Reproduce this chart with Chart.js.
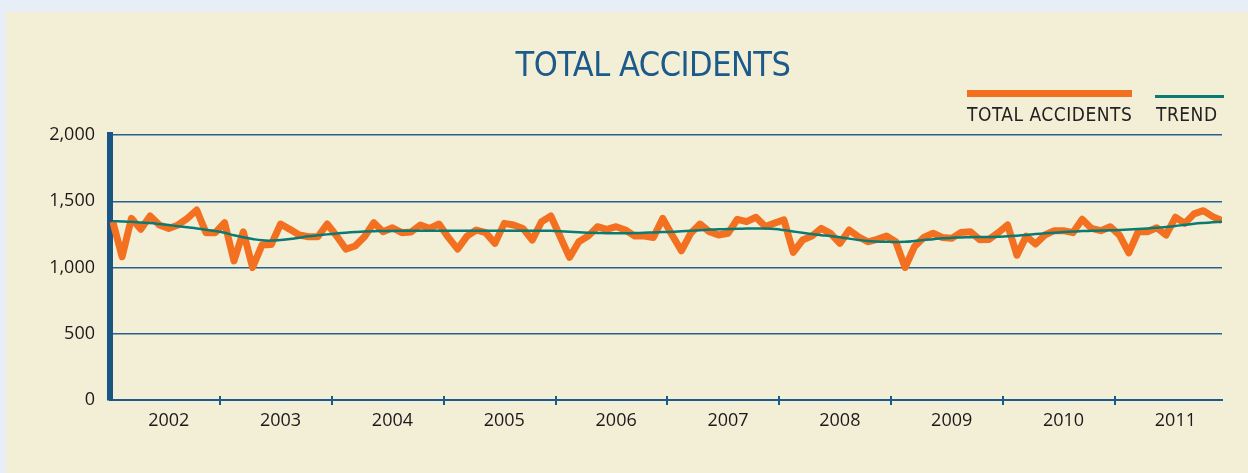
<!DOCTYPE html>
<html>
<head>
<meta charset="utf-8">
<script src="https://cdn.jsdelivr.net/npm/chart.js@4"></script>
<style>
  html, body { margin: 0; padding: 0; background: #e7eef5; overflow: hidden; }
  #panel { position: absolute; left: 6px; top: 12px; width: 1242px; height: 461px; background: #f3efd7; }
</style>
</head>
<body>
<div id="panel"><canvas id="accidents" width="1242" height="461"></canvas></div>
<script>
var chartTitle = "TOTAL ACCIDENTS";
var years = ["2002","2003","2004","2005","2006","2007","2008","2009","2010","2011"];
var yTicks = [0, 500, 1000, 1500, 2000];

// monthly totals, Jan 2002 .. Dec 2011
var totalAccidents = [
  1346,1081,1371,1288,1389,1321,1295,1321,1371,1434,1263,1263,
  1338,1050,1270,1000,1169,1174,1328,1288,1245,1232,1232,1328,
  1240,1139,1162,1232,1338,1270,1300,1263,1268,1321,1295,1328,
  1227,1139,1237,1283,1263,1182,1333,1321,1295,1207,1346,1389,
  1232,1076,1194,1237,1308,1288,1308,1283,1237,1237,1227,1371,
  1245,1126,1258,1328,1270,1245,1258,1364,1346,1379,1310,1335,
  1360,1114,1207,1237,1295,1258,1182,1283,1232,1194,1212,1237,
  1194,1000,1157,1227,1258,1227,1220,1265,1270,1210,1212,1263,
  1321,1093,1237,1177,1245,1278,1278,1263,1364,1295,1278,1308,
  1245,1111,1270,1270,1300,1245,1379,1333,1405,1429,1384,1354
];

var trend = [
  1350,1348,1345,1340,1335,1328,1320,1312,1303,1295,1285,1275,
  1262,1243,1228,1215,1205,1203,1208,1215,1225,1235,1243,1250,
  1257,1263,1268,1272,1274,1275,1276,1277,1277,1278,1278,1278,
  1278,1278,1278,1278,1278,1278,1278,1278,1278,1278,1278,1277,
  1274,1270,1266,1263,1261,1259,1258,1258,1260,1262,1265,1268,
  1270,1274,1278,1282,1286,1288,1290,1292,1294,1295,1294,1290,
  1282,1272,1262,1252,1244,1237,1228,1218,1208,1200,1196,1194,
  1193,1194,1200,1208,1214,1220,1224,1227,1229,1230,1230,1232,
  1235,1240,1246,1252,1258,1263,1267,1271,1275,1277,1279,1281,
  1283,1286,1290,1295,1300,1306,1313,1322,1330,1336,1341,1346
];

var orange = "#f37021";
var teal = "#0b7a72";
var navy = "#1b5a8a";
var narrow = "'Liberation Sans Narrow', 'DejaVu Sans Condensed', sans-serif";

function toPoints(arr) {
  return arr.map(function (v, i) { return { x: i, y: v }; });
}

// title, year boundary marks, and legend with the swatch above the text
var extras = {
  id: "extras",
  afterDraw: function (chart) {
    var ctx = chart.ctx;
    var xs = chart.scales.x;
    var bottom = chart.chartArea.bottom;
    ctx.save();
    ctx.strokeStyle = navy;
    ctx.lineWidth = 2;
    for (var k = 1; k < years.length; k++) {
      var px = Math.round(xs.getPixelForValue(k * 12 - 0.5));
      ctx.beginPath();
      ctx.moveTo(px, bottom - 4);
      ctx.lineTo(px, bottom + 5);
      ctx.stroke();
    }

    ctx.fillStyle = navy;
    ctx.font = "34px " + narrow;
    ctx.letterSpacing = "-0.5px";
    ctx.textAlign = "center";
    ctx.textBaseline = "alphabetic";
    ctx.fillText(chartTitle, 647, 64);

    ctx.fillStyle = orange;
    ctx.fillRect(961, 78, 165, 7);
    ctx.fillStyle = teal;
    ctx.fillRect(1149, 83, 69, 3);

    ctx.fillStyle = "#222";
    ctx.font = "19px " + narrow;
    ctx.letterSpacing = "0.5px";
    ctx.textAlign = "left";
    ctx.fillText("TOTAL ACCIDENTS", 961, 109);
    ctx.fillText("TREND", 1150, 109);
    ctx.restore();
  }
};

var ctx = document.getElementById("accidents");

var chart = new Chart(ctx, {
  type: "line",
  data: {
    datasets: [
      {
        label: "TREND",
        data: toPoints(trend),
        borderColor: teal,
        borderWidth: 2.5,
        tension: 0.4,
        pointRadius: 0,
        fill: false
      },
      {
        label: "TOTAL ACCIDENTS",
        data: toPoints(totalAccidents),
        borderColor: orange,
        borderWidth: 7,
        borderJoinStyle: "round",
        tension: 0,
        pointRadius: 0,
        fill: false
      }
    ]
  },
  options: {
    responsive: false,
    animation: false,
    layout: { padding: { top: 123, right: 26 } },
    plugins: {
      legend: { display: false },
      tooltip: { enabled: false },
      title: { display: false }
    },
    scales: {
      x: {
        type: "linear",
        min: -0.3,
        max: 119,
        afterFit: function (s) { s.height = 73; },
        afterBuildTicks: function (s) {
          s.ticks = years.map(function (y, k) { return { value: k * 12 + 6 }; });
        },
        ticks: {
          autoSkip: false,
          maxRotation: 0,
          padding: 10,
          color: "#1a1a1a",
          font: { family: "'Open Sans', sans-serif", size: 18 },
          callback: function (v) { return years[Math.round((v - 6) / 12)]; }
        },
        grid: { display: true, drawOnChartArea: false, drawTicks: false },
        border: { display: true, color: navy, width: 2 }
      },
      y: {
        min: 0,
        max: 2000,
        afterFit: function (s) { s.width = 104; },
        afterBuildTicks: function (s) {
          s.ticks = yTicks.map(function (v) { return { value: v }; });
        },
        ticks: {
          padding: 15,
          color: "#1a1a1a",
          font: { family: "'Open Sans', sans-serif", size: 18 }
        },
        grid: { color: "#26628f", lineWidth: 1.5, drawTicks: false },
        border: { display: true, color: "#1a5585", width: 6 }
      }
    }
  },
  plugins: [extras]
});
</script>
</body>
</html>
